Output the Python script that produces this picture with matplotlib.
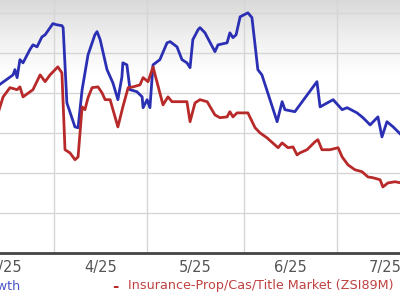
import numpy as np
import matplotlib.pyplot as plt

blue_days = [13.0, 17.8, 18.4, 19.1, 20.0, 21.0, 23.2, 24.2, 25.5, 27.1, 28.1, 30.6, 31.9,
             33.5, 33.9, 35.1, 37.7, 38.7, 40.0, 41.9, 44.1, 44.8, 45.8, 48.0, 49.9, 51.5,
             52.8, 53.1, 54.4, 55.4, 57.6, 59.3, 59.6, 60.9, 61.8, 62.8, 65.0, 67.3, 68.3,
             70.5, 72.1, 73.7, 74.7, 75.6, 77.3, 77.9, 79.5, 82.7, 83.7, 86.6, 87.5, 88.5,
             89.5, 90.8, 93.3, 94.6, 96.5, 97.8, 102.7, 104.3, 105.2, 108.4, 110.0, 115.5,
             116.5, 120.7, 123.6, 125.2, 128.4, 130.3, 132.6, 135.1, 136.4, 138.0, 140.0, 142.6]
blue_vals = [41.8, 44.5, 45.8, 43.8, 48.3, 47.5, 50.8, 52.0, 51.5, 54.0, 54.5, 57.3, 57.0,
             56.8, 56.3, 37.5, 31.5, 31.3, 40.8, 49.5, 54.5, 55.3, 53.3, 45.8, 42.5, 38.3,
             44.0, 47.5, 47.0, 40.8, 40.3, 39.0, 36.3, 38.3, 36.3, 47.0, 48.3, 52.5, 52.8,
             51.5, 48.3, 47.5, 46.3, 53.3, 55.8, 56.3, 55.0, 50.3, 52.0, 52.5, 55.0, 53.8,
             54.5, 59.0, 60.0, 58.8, 45.8, 44.5, 32.8, 37.8, 35.8, 35.3, 37.0, 42.8,
             36.5, 38.3, 35.8, 36.3, 35.0, 33.8, 32.0, 34.0, 29.0, 32.8, 31.5, 29.5]

red_days = [13.0, 14.6, 16.8, 19.1, 20.0, 21.0, 24.2, 26.5, 28.1, 29.7, 32.2, 33.5, 34.5,
            36.1, 37.7, 38.7, 40.0, 40.9, 41.9, 43.2, 45.1, 46.4, 47.4, 49.0, 51.5, 53.1,
            54.8, 56.4, 58.6, 59.6, 61.2, 62.8, 66.0, 67.6, 68.9, 73.7, 74.7, 76.3, 77.9,
            80.2, 82.7, 84.3, 86.6, 87.5, 88.5, 89.8, 93.3, 95.6, 97.2, 99.4, 103.0, 104.3,
            106.2, 107.8, 109.1, 110.0, 112.3, 114.9, 115.8, 117.1, 119.7, 122.3, 123.6,
            125.5, 127.7, 130.0, 131.9, 133.5, 135.8, 136.7, 138.3, 140.6, 142.6]
red_vals = [35.0, 39.0, 41.3, 40.8, 41.5, 39.0, 40.8, 44.5, 42.8, 44.5, 46.5, 45.0, 25.8,
            25.0, 23.3, 24.0, 36.5, 35.8, 38.8, 41.3, 41.5, 40.0, 38.3, 38.3, 31.5, 36.5,
            41.3, 41.5, 42.0, 43.8, 42.8, 46.5, 37.0, 39.0, 37.8, 37.8, 32.8, 37.5, 38.3,
            37.8, 34.5, 33.8, 34.0, 35.3, 34.0, 35.0, 35.0, 31.3, 30.0, 28.8, 26.3, 27.5,
            26.3, 26.5, 24.5, 25.0, 25.8, 27.8, 28.3, 25.8, 25.8, 26.3, 24.0,
            22.0, 20.8, 20.3, 19.0, 18.8, 18.3, 16.5, 17.5, 17.8, 17.5]

month_starts = [31, 61, 92, 122]
month_mids = [15.5, 46, 76.5, 107, 137.5]
month_labels = ["3/25", "4/25", "5/25", "6/25", "7/25"]

blue = "#2b2fb3"
red = "#b82a2a"

fig = plt.figure(figsize=(4, 3), dpi=100)
ax = fig.add_axes([0, 1 - 253 / 300, 1, 253 / 300])

# grey fade at the top of the plot area
grad = np.linspace(0, 1, 256).reshape(-1, 1)
grad = np.clip(grad / 0.3, 0, 1)
ax.imshow(grad, extent=[0, 1, 0, 1], transform=ax.transAxes, aspect="auto",
          cmap="Greys_r", vmin=-3.0, vmax=1, origin="upper", zorder=0)

ax.plot(blue_days, blue_vals, color=blue, lw=2.0, zorder=3, solid_joinstyle="round")
ax.plot(red_days, red_vals, color=red, lw=2.0, zorder=3, solid_joinstyle="round")

ax.set_xlim(13.6, 142.2)
ax.set_ylim(0, 63.2)
ax.set_yticks([10, 20, 30, 40, 50, 60])
ax.set_xticks(month_starts, minor=True)
ax.set_xticks(month_mids)
ax.set_xticklabels(month_labels, fontsize=10.5, color="#555555")
ax.tick_params(axis="x", which="both", length=0, pad=5)
ax.tick_params(axis="y", length=0, labelleft=False)
ax.grid(axis="y", color="#d6d6d6", lw=1)
ax.grid(axis="x", which="minor", color="#d6d6d6", lw=1)
ax.set_axisbelow(True)
for side in ["top", "left", "right"]:
    ax.spines[side].set_visible(False)
ax.spines["bottom"].set_color("#444444")
ax.spines["bottom"].set_linewidth(2)

legend_y = 1 - 286 / 300
fig.text(0.052, legend_y, "Growth", ha="right", va="center",
         fontsize=9.2, color="#4a55c8")
fig.text(0.28, legend_y, "-", ha="left", va="center", fontsize=11,
         fontweight="bold", color=red)
fig.text(0.32, legend_y, "Insurance-Prop/Cas/Title Market (ZSI89M)", ha="left",
         va="center", fontsize=9.2, color="#c04040")

fig.savefig("out.png", dpi=100)
